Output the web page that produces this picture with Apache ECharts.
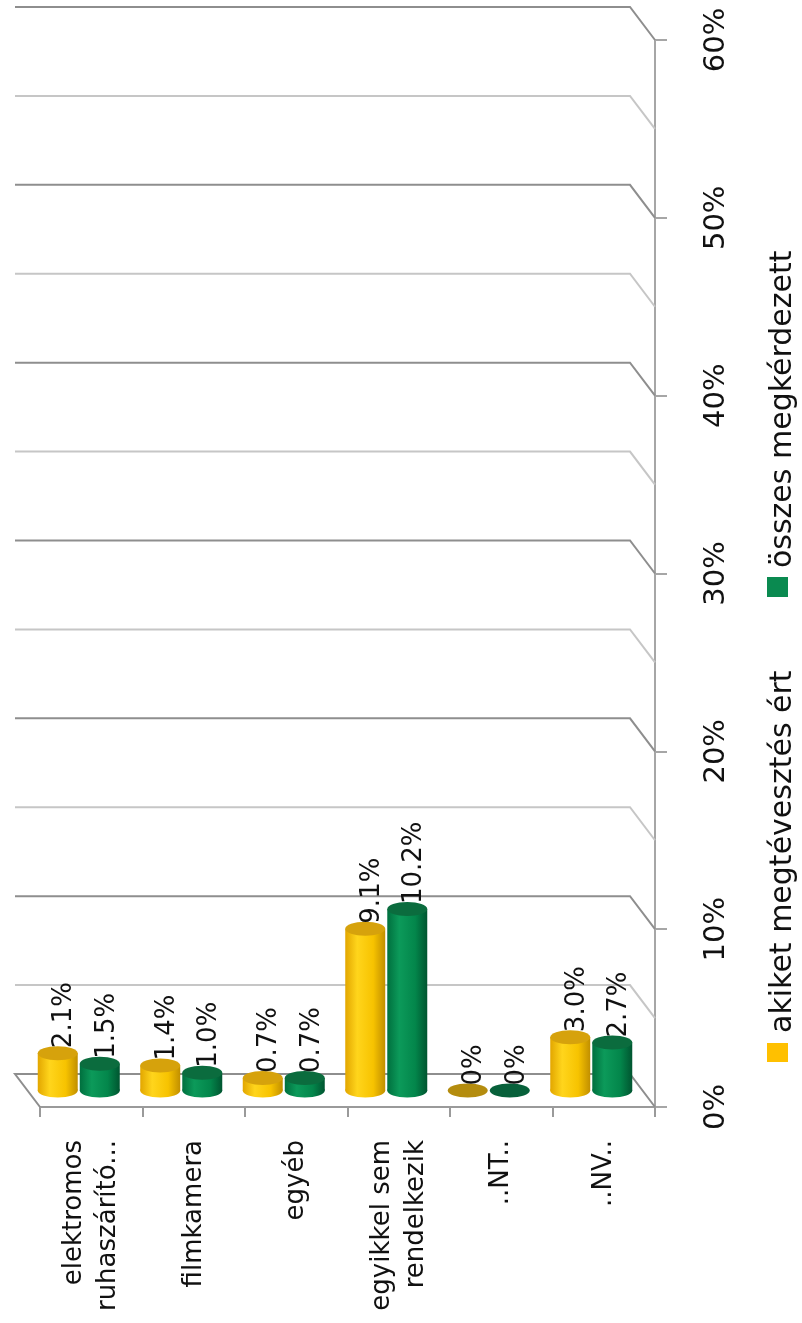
<!DOCTYPE html>
<html>
<head>
<meta charset="utf-8">
<title>Háztartási eszközök</title>
<script src="https://cdn.jsdelivr.net/npm/echarts@6/dist/echarts.min.js"></script>
<style>
  html, body { margin: 0; padding: 0; background: #ffffff; }
  #chart { width: 802px; height: 1323px; }
</style>
</head>
<body>
<div id="chart"></div>
<script>
// ---- data ----
const categories = ['elektromos\nruhaszárító...', 'filmkamera', 'egyéb', 'egyikkel sem\nrendelkezik', '..NT..', '..NV..'];
const seriesNames = ['akiket megtévesztés ért', 'összes megkérdezett'];
const deceived = [2.1, 1.4, 0.7, 9.1, 0, 3.0];
const allAsked = [1.5, 1.0, 0.7, 10.2, 0, 2.7];
const gridLevels = [0, 5, 10, 15, 20, 25, 30, 35, 40, 45, 50, 55, 60];

// ---- look ----
const FONT = '"DejaVu Sans", sans-serif';
const FLOOR_DX = 25;   // horizontal depth of the 3D floor (px)
const FLOOR_DY = 33;   // vertical depth of the 3D floor (px)

const palettes = [
  {
    legend: '#FFC000',
    top: '#d6a20c',
    flat: '#b48c0e',
    body: [
      { offset: 0, color: '#e2a600' },
      { offset: 0.3, color: '#ffd51c' },
      { offset: 0.7, color: '#f7c300' },
      { offset: 1, color: '#c18f00' }
    ]
  },
  {
    legend: '#0a8a50',
    top: '#0b6c3e',
    flat: '#07603a',
    body: [
      { offset: 0, color: '#006f3e' },
      { offset: 0.3, color: '#0c9a5a' },
      { offset: 0.7, color: '#03864b' },
      { offset: 1, color: '#005530' }
    ]
  }
];

function fmtPct(v) {
  return v === 0 ? '0%' : v.toFixed(1) + '%';
}

// Back-wall gridlines with the diagonal running to the front value axis;
// the zero line also outlines the floor.
function gridItem(params, api) {
  const v = api.value(1);
  const y = api.coord([0, v])[1];
  const cs = params.coordSys;
  const left = cs.x, right = cs.x + cs.width;
  const pts = v === 0
    ? [[left, y], [left - FLOOR_DX, y - FLOOR_DY], [right - FLOOR_DX, y - FLOOR_DY], [right, y]]
    : [[left - FLOOR_DX, y - FLOOR_DY], [right - FLOOR_DX, y - FLOOR_DY], [right, y]];
  const major = v % 10 === 0;
  return {
    type: 'polyline',
    shape: { points: pts },
    style: { fill: null, stroke: major ? '#8e8e8e' : '#c6c6c6', lineWidth: 2 }
  };
}

// Cylinder standing in the middle of the floor depth.
function makeCylinder(side, pal) {
  return function (params, api) {
    const cat = api.value(0);
    const val = api.value(1);
    const band = api.size([1, 0])[0];
    const base = api.coord([cat, 0]);
    const tip = api.coord([cat, val]);
    const cx = base[0] - FLOOR_DX / 2 + side * band * 0.205;
    const yb = base[1] - FLOOR_DY / 2;
    const yt = tip[1] - FLOOR_DY / 2;
    const rx = band * 0.195;
    const ry = 7;
    const label = {
      type: 'text',
      x: cx + 7,
      y: yt - 5,
      rotation: Math.PI / 2,
      z2: 10,
      style: {
        text: fmtPct(val),
        fill: '#111111',
        font: '26px ' + FONT,
        align: 'left',
        verticalAlign: 'middle',
        textAlign: 'left',
        textVerticalAlign: 'middle'
      }
    };
    if (val === 0) {
      return {
        type: 'group',
        children: [
          { type: 'ellipse', shape: { cx: cx, cy: yb, rx: rx, ry: ry }, style: { fill: pal.flat } },
          label
        ]
      };
    }
    const grad = new echarts.graphic.LinearGradient(0, 0, 1, 0, pal.body);
    return {
      type: 'group',
      children: [
        { type: 'ellipse', shape: { cx: cx, cy: yb, rx: rx, ry: ry }, style: { fill: grad } },
        { type: 'rect', shape: { x: cx - rx, y: yt, width: 2 * rx, height: yb - yt }, style: { fill: grad } },
        { type: 'ellipse', shape: { cx: cx, cy: yt, rx: rx, ry: ry }, style: { fill: pal.top } },
        label
      ]
    };
  };
}

const chart = echarts.init(document.getElementById('chart'), null, { renderer: 'canvas' });

chart.setOption({
  animation: false,
  backgroundColor: '#ffffff',
  grid: { left: 40, right: 147, top: 40, bottom: 216, containLabel: false, outerBoundsMode: 'none' },
  xAxis: {
    type: 'category',
    data: categories,
    boundaryGap: true,
    axisLine: { show: true, lineStyle: { color: '#9a9a9a', width: 2 } },
    axisTick: { show: true, length: 10, alignWithLabel: false, lineStyle: { color: '#9a9a9a', width: 2 } },
    axisLabel: {
      interval: 0,
      rotate: 90,
      margin: 33,
      color: '#111111',
      fontFamily: FONT,
      fontSize: 26,
      lineHeight: 34
    },
    splitLine: { show: false }
  },
  yAxis: {
    type: 'value',
    position: 'right',
    min: 0,
    max: 60,
    interval: 10,
    axisLine: { show: true, lineStyle: { color: '#a6a6a6', width: 2 } },
    axisTick: { show: true, length: 12, lineStyle: { color: '#a6a6a6', width: 2 } },
    axisLabel: {
      rotate: 90,
      margin: 61,
      align: 'center',
      verticalAlign: 'middle',
      formatter: '{value}%',
      color: '#111111',
      fontFamily: FONT,
      fontSize: 29
    },
    splitLine: { show: false }
  },
  series: [
    {
      type: 'custom',
      name: 'grid',
      silent: true,
      z: 1,
      renderItem: gridItem,
      encode: { x: 0, y: 1 },
      data: gridLevels.map(function (v) { return [0, v]; })
    },
    {
      type: 'custom',
      name: seriesNames[0],
      z: 3,
      renderItem: makeCylinder(-1, palettes[0]),
      encode: { x: 0, y: 1 },
      data: deceived.map(function (v, i) { return [i, v]; })
    },
    {
      type: 'custom',
      name: seriesNames[1],
      z: 4,
      renderItem: makeCylinder(1, palettes[1]),
      encode: { x: 0, y: 1 },
      data: allAsked.map(function (v, i) { return [i, v]; })
    }
  ],
  graphic: [
    { type: 'rect', x: 767, y: 1043, shape: { x: 0, y: 0, width: 21, height: 19 }, style: { fill: palettes[0].legend } },
    {
      type: 'text', x: 783, y: 1033, rotation: Math.PI / 2,
      style: { text: seriesNames[0], fill: '#111111', font: '30px ' + FONT,
               align: 'left', verticalAlign: 'middle', textAlign: 'left', textVerticalAlign: 'middle' }
    },
    { type: 'rect', x: 767, y: 577, shape: { x: 0, y: 0, width: 21, height: 20 }, style: { fill: palettes[1].legend } },
    {
      type: 'text', x: 783, y: 568, rotation: Math.PI / 2,
      style: { text: seriesNames[1], fill: '#111111', font: '30px ' + FONT,
               align: 'left', verticalAlign: 'middle', textAlign: 'left', textVerticalAlign: 'middle' }
    }
  ]
});
</script>
</body>
</html>
